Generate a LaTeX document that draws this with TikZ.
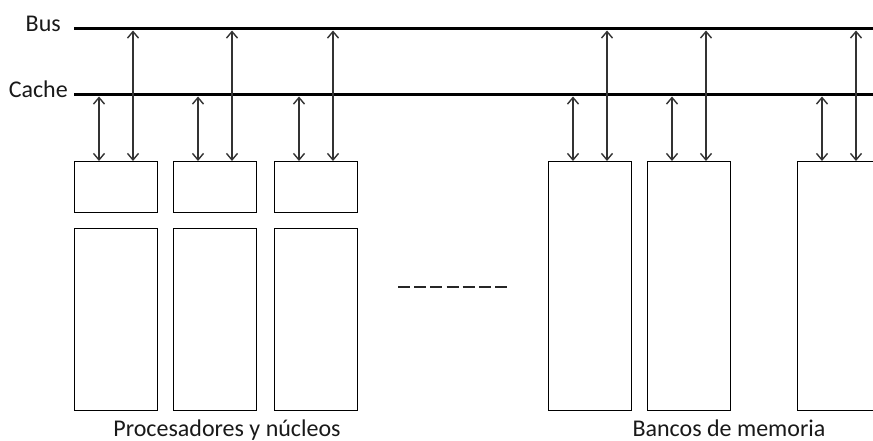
\documentclass[tikz,border=0pt]{standalone}
\usepackage{fontspec}
\setmainfont{Carlito}
\usetikzlibrary{arrows.meta,calc}
\begin{document}
\begin{tikzpicture}[x=1pt,y=-1pt,
  busline/.style={line width=3pt,black},
  cpubox/.style={draw=black,line width=1.3pt,inner sep=0pt,anchor=north west,
    minimum width=83pt},
  cachebox/.style={cpubox,minimum height=51pt},
  corebox/.style={cpubox,minimum height=182pt},
  membox/.style={cpubox,minimum height=249pt},
  link/.style={line width=1.4pt,draw=black!80,
    {Straight Barb[length=6.5pt,width=11pt]}-{Straight Barb[length=6.5pt,width=11pt]}},
  lbl/.style={font=\fontsize{24}{28}\selectfont,text=black!90,inner sep=0pt},
  dots/.style={line width=2pt,black!85,dash pattern=on 12pt off 4.17pt}
]
\useasboundingbox (0,0) rectangle (873,441);
\clip (0,0) rectangle (873,441);

% bus and cache lines
\coordinate (busL) at (74,29);
\coordinate (busR) at (873,29);
\coordinate (cacheL) at (74,95);
\coordinate (cacheR) at (873,95);
\draw[busline] (busL) -- (busR);
\draw[busline] (cacheL) -- (cacheR);
\node[lbl,anchor=base east] (buslbl) at (61,32) {Bus};
\node[lbl,anchor=base east] (cachelbl) at (68,98) {Cache};

% processors: cache block above each core
\node[cachebox] (s1) at (74,161) {};
\node[cachebox] (s2) at (173,161) {};
\node[cachebox] (s3) at (274,161) {};
\node[corebox] (p1) at (74,228) {};
\node[corebox] (p2) at (173,228) {};
\node[corebox] (p3) at (274,228) {};

% memory banks
\node[membox] (m1) at (548,161) {};
\node[membox] (m2) at (647,161) {};
\node[membox] (m3) at (797,161) {};

% connections to cache and bus
\foreach \b in {s1,s2,s3,m1,m2,m3} {
  \path ($(\b.north west)+(25,0)$) coordinate (c\b);
  \path ($(\b.north west)+(59,0)$) coordinate (b\b);
  \draw[link,shorten <=1.5pt] (c\b |- cacheL) -- (c\b);
  \draw[link,shorten <=1.5pt] (b\b |- busL) -- (b\b);
}

% ellipsis between the groups
\coordinate (dotsL) at (398,287);
\coordinate (dotsR) at (507,287);
\draw[dots] (dotsL) -- (dotsR);

% group captions
\node[lbl,anchor=base] (cpulbl) at (227,436) {Procesadores y núcleos};
\node[lbl,anchor=base] (memlbl) at (729,436) {Bancos de memoria};
\end{tikzpicture}
\end{document}
